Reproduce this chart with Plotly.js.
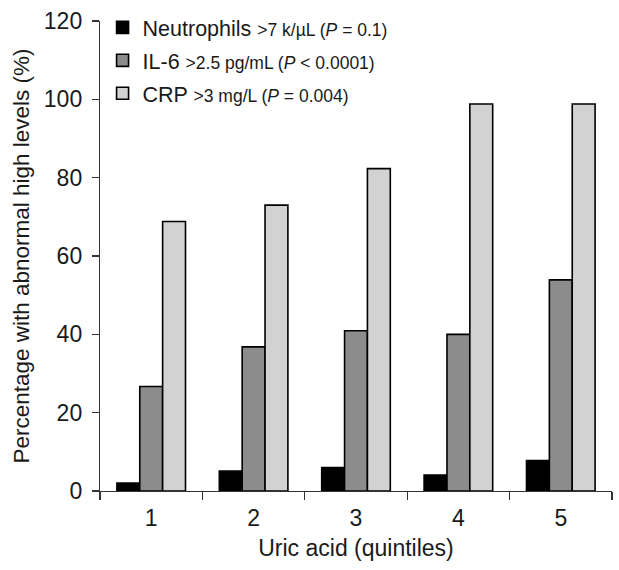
<!DOCTYPE html>
<html>
<head>
<meta charset="utf-8">
<script src="https://cdn.plot.ly/plotly-3.0.1.min.js"></script>
<style>html,body{margin:0;padding:0;background:#fff;}#chart{width:619px;height:570px;}</style>
</head>
<body>
<div id="chart"></div>
<script>
const categories = ["1", "2", "3", "4", "5"];
const neutrophils = [2, 5.1, 6, 4.1, 7.8];
const il6 = [26.7, 36.8, 40.9, 40, 53.9];
const crp = [68.8, 73, 82.3, 98.8, 98.8];
const seriesNames = [
  "Neutrophils <span style='font-size:17.5px'>>7 k/µL (<i>P</i> = 0.1)</span>",
  "IL-6 <span style='font-size:17.5px'>>2.5 pg/mL (<i>P</i> < 0.0001)</span>",
  "CRP <span style='font-size:17.5px'>>3 mg/L (<i>P</i> = 0.004)</span>"
];
const seriesColors = ["#000000", "#8c8c8c", "#d2d2d2"];
const yTicks = [0, 20, 40, 60, 80, 100, 120];

const values = [neutrophils, il6, crp];
const traces = values.map((v, i) => ({
  type: "bar",
  x: categories,
  y: v,
  name: seriesNames[i],
  legendgroup: "g" + i,
  marker: {color: seriesColors[i], line: {color: "#000", width: 1.6}},
  hoverinfo: "skip"
}));

const font = {family: "Liberation Sans, Arial, sans-serif", color: "#1a1a1a"};
const layout = {
  width: 619, height: 570,
  margin: {l: 100, r: 7, t: 21, b: 79},
  paper_bgcolor: "#fff", plot_bgcolor: "#fff",
  font: Object.assign({size: 21}, font),
  barmode: "group",
  bargap: 0.33,
  bargroupgap: 0,
  showlegend: true,
  legend: {
    x: 0.005, y: 1.03, xanchor: "left", yanchor: "top",
    font: Object.assign({size: 21.5}, font),
    tracegroupgap: 2,
    bgcolor: "rgba(0,0,0,0)",
    itemwidth: 30
  },
  xaxis: {
    type: "category",
    range: [-0.5, 4.5],
    showline: true, linecolor: "#333", linewidth: 1.2,
    ticks: "outside", tickson: "boundaries", ticklen: 8, tickcolor: "#333", tickwidth: 1.2,
    tickfont: Object.assign({size: 23}, font),
    ticklabelstandoff: 6,
    showgrid: false, zeroline: false,
    title: {text: "Uric acid (quintiles)", font: Object.assign({size: 23}, font), standoff: 10}
  },
  yaxis: {
    range: [0, 120],
    tickvals: yTicks,
    showline: true, linecolor: "#333", linewidth: 1.2,
    ticks: "outside", ticklen: 7, tickcolor: "#333", tickwidth: 1.2,
    tickfont: Object.assign({size: 23}, font),
    ticklabelstandoff: 5,
    showgrid: false, zeroline: false,
    title: {text: "Percentage with abnormal high levels (%)", font: Object.assign({size: 22.5}, font), standoff: 8}
  }
};

Plotly.newPlot("chart", traces, layout, {displayModeBar: false, staticPlot: true});
</script>
</body>
</html>
